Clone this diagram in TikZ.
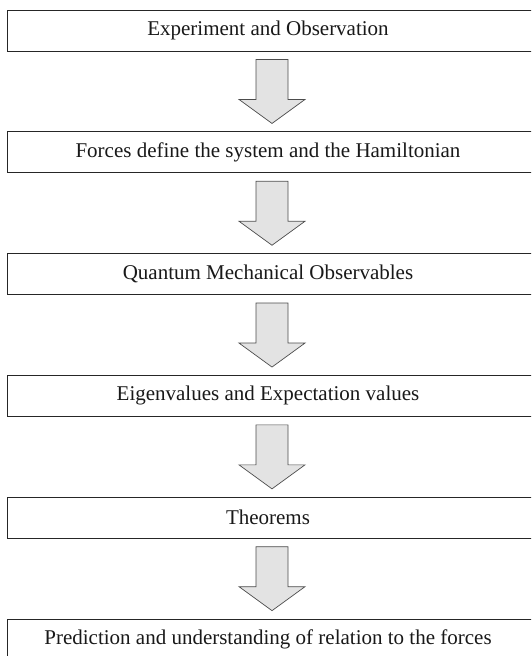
\documentclass[tikz,border=0pt]{standalone}
\usepackage{fontspec}
\setmainfont{Liberation Serif}
\usetikzlibrary{calc}
\tikzset{
  stagebox/.style={draw=black!85, line width=0.9pt, fill=white, minimum width=529pt, minimum height=41pt, inner sep=0pt, font=\fontsize{21}{25}\selectfont, text=black!90, execute at end node={\hspace*{8pt}}},
  blockarrow/.style={draw=black!70, line width=0.7pt, fill=black!11, line join=miter}
}
\newcommand{\blockarr}[1]{%
  \draw[blockarrow] ($(#1.south)+(-16,8)$) -- ($(#1.south)+(16,8)$) -- ($(#1.south)+(16,48)$) -- ($(#1.south)+(33,48)$) -- ($(#1.south)+(0,72)$) -- ($(#1.south)+(-33,48)$) -- ($(#1.south)+(-16,48)$) -- cycle;}
\begin{document}
\begin{tikzpicture}[x=1pt,y=-1pt]
\useasboundingbox (0,0) rectangle (531,656);
\clip (0,0) rectangle (531,656);
\node[stagebox] (b1) at (272,30.5) {Experiment and Observation};
\node[stagebox] (b2) at (272,152.3) {Forces define the system and the Hamiltonian};
\node[stagebox] (b3) at (272,274.1) {Quantum Mechanical Observables};
\node[stagebox] (b4) at (272,395.9) {Eigenvalues and Expectation values};
\node[stagebox] (b5) at (272,517.7) {Theorems};
\node[stagebox] (b6) at (272,639.5) {Prediction and understanding of relation to the forces};
\blockarr{b1}
\blockarr{b2}
\blockarr{b3}
\blockarr{b4}
\blockarr{b5}
\end{tikzpicture}
\end{document}
